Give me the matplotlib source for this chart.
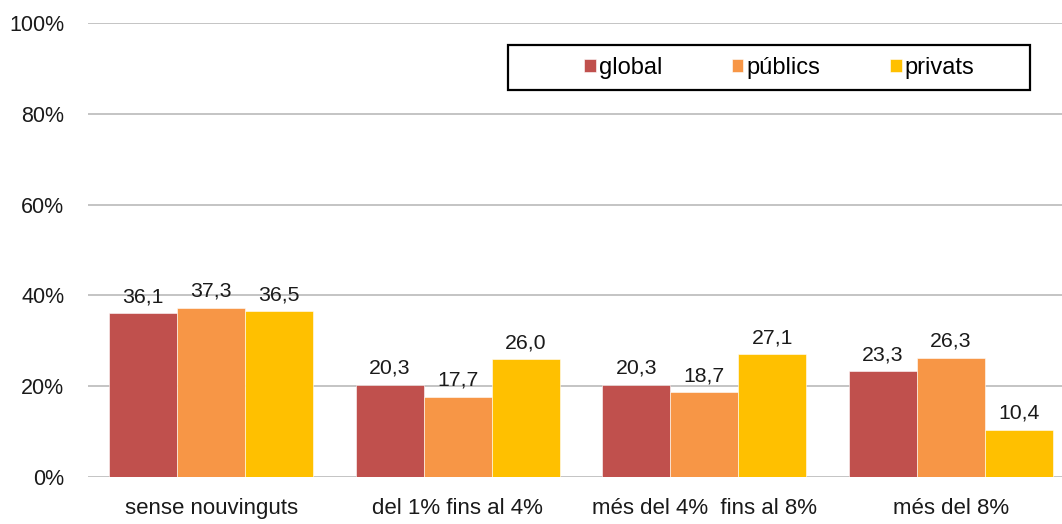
import matplotlib.pyplot as plt
import matplotlib.patches as mpatches
import numpy as np

plt.rcParams['font.family'] = ['Liberation Sans', 'DejaVu Sans']

categories = ["sense nouvinguts", "del 1% fins al 4%", "més del 4%  fins al 8%", "més del 8%"]
series_names = ["global", "públics", "privats"]
global_vals = [36.1, 20.3, 20.3, 23.3]
publics_vals = [37.3, 17.7, 18.7, 26.3]
privats_vals = [36.5, 26.0, 27.1, 10.4]
colors = ["#C0504D", "#F79646", "#FFC000"]

fig = plt.figure(figsize=(10.62, 5.24), dpi=100)
W, H = 1062, 524
# plot area runs past the right edge of the figure
ax = fig.add_axes([88 / W, (H - 477) / H, 986 / W, 454 / H])

x = np.arange(len(categories))
bw = 0.276
for i, (vals, name, c) in enumerate(zip([global_vals, publics_vals, privats_vals], series_names, colors)):
    pos = x + (i - 1) * bw
    ax.bar(pos, vals, bw, color=c, label=name, edgecolor="white", linewidth=0.4, zorder=3)
    for p, v in zip(pos, vals):
        ax.annotate(f"{v:.1f}".replace(".", ","), (p, v), xytext=(0, 5), textcoords="offset points",
                    ha="center", va="bottom", fontsize=15.3, color="#1a1a1a")

ax.set_xlim(-0.5, 3.5)
ax.set_ylim(0, 100)
ax.set_yticks(range(0, 101, 20))
ax.set_yticklabels([f"{t}%" for t in range(0, 101, 20)])
ax.set_xticks(x)
ax.set_xticklabels(categories)
ax.tick_params(axis="both", length=0, colors="#1a1a1a")
ax.tick_params(axis="y", pad=17, labelsize=15.5)
ax.tick_params(axis="x", pad=15, labelsize=16)
ax.yaxis.grid(True, color="#BFBFBF", linewidth=1.3, zorder=0)
for s in ax.spines.values():
    s.set_visible(False)

# legend box
fig.patches.append(mpatches.Rectangle((508 / W, (H - 90) / H), 522 / W, 45 / H, transform=fig.transFigure,
                                      fill=False, edgecolor="black", linewidth=1.6, zorder=5))
fig.legend(loc="center", bbox_to_anchor=(779 / W, (H - 68) / H), ncol=3, frameon=False,
           fontsize=17, handlelength=0.5, handleheight=0.5, handletextpad=0.12,
           columnspacing=2.95, borderaxespad=0)

fig.savefig("out.png", dpi=100)
